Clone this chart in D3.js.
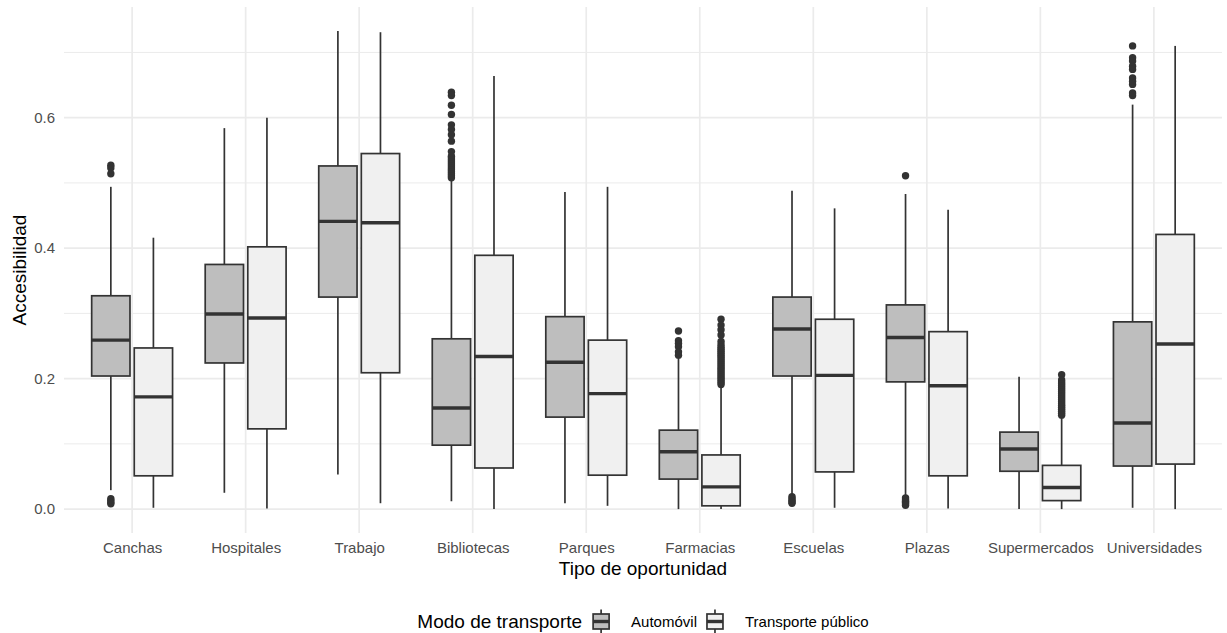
<!DOCTYPE html>
<html>
<head>
<meta charset="utf-8">
<script src="https://cdn.jsdelivr.net/npm/d3@7"></script>
<style>
  body { margin: 0; background: #fff; }
  svg { font-family: "Liberation Sans", Arial, sans-serif; display: block; }
</style>
</head>
<body>
<svg id="chart" width="1227" height="633"></svg>
<script>
// Categories and series
const categories = ["Canchas", "Hospitales", "Trabajo", "Bibliotecas", "Parques",
  "Farmacias", "Escuelas", "Plazas", "Supermercados", "Universidades"];
const seriesNames = ["Automóvil", "Transporte público"];
const seriesFill = ["#bebebe", "#f0f0f0"];

// Automóvil box stats
const autoLower  = [0.029, 0.025, 0.053, 0.012, 0.009, 0.000, 0.022, 0.020, 0.000, 0.002];
const autoQ1     = [0.204, 0.224, 0.325, 0.098, 0.141, 0.046, 0.204, 0.195, 0.058, 0.066];
const autoMedian = [0.259, 0.299, 0.441, 0.155, 0.225, 0.088, 0.276, 0.263, 0.092, 0.132];
const autoQ3     = [0.327, 0.375, 0.526, 0.261, 0.295, 0.121, 0.325, 0.313, 0.118, 0.287];
const autoUpper  = [0.494, 0.584, 0.733, 0.503, 0.486, 0.232, 0.488, 0.483, 0.203, 0.620];

// Transporte público box stats
const tpLower  = [0.002, 0.001, 0.009, 0.000, 0.005, 0.000, 0.002, 0.001, 0.000, 0.000];
const tpQ1     = [0.051, 0.123, 0.209, 0.063, 0.052, 0.005, 0.057, 0.051, 0.013, 0.069];
const tpMedian = [0.172, 0.293, 0.439, 0.234, 0.177, 0.034, 0.205, 0.189, 0.033, 0.253];
const tpQ3     = [0.247, 0.402, 0.545, 0.389, 0.259, 0.083, 0.291, 0.272, 0.067, 0.421];
const tpUpper  = [0.416, 0.600, 0.731, 0.664, 0.494, 0.189, 0.461, 0.459, 0.140, 0.710];

// Outliers
const autoOutliers = [
  [0.527, 0.523, 0.514, 0.016, 0.013, 0.010, 0.008],
  [],
  [],
  [0.639, 0.634, 0.619, 0.605, 0.589, 0.582, 0.574, 0.564, 0.548,
   0.541, 0.538, 0.535, 0.532, 0.529, 0.526, 0.523, 0.520, 0.517, 0.514, 0.511, 0.508],
  [],
  [0.273, 0.258, 0.254, 0.249, 0.241, 0.236],
  [0.019, 0.016, 0.013, 0.011, 0.009],
  [0.511, 0.017, 0.014, 0.012, 0.010, 0.008, 0.006],
  [],
  [0.710, 0.692, 0.687, 0.679, 0.674, 0.661, 0.656, 0.651, 0.638, 0.634]
];
const tpOutliers = [
  [], [], [], [], [],
  [0.291, 0.282, 0.275, 0.267, 0.257, 0.252, 0.248, 0.245, 0.242, 0.239, 0.236, 0.233,
   0.230, 0.227, 0.224, 0.221, 0.218, 0.215, 0.212, 0.209, 0.206, 0.203, 0.200, 0.197, 0.194, 0.191],
  [], [], 
  [0.206, 0.198, 0.195, 0.192, 0.189, 0.186, 0.183, 0.180, 0.177, 0.174, 0.171, 0.168,
   0.165, 0.162, 0.159, 0.156, 0.153, 0.150, 0.147, 0.144],
  []
];

const yMajorTicks = [0, 0.2, 0.4, 0.6];
const yMinorTicks = [0.1, 0.3, 0.5, 0.7];

// build rows for drawing
const series = [
  { name: seriesNames[0], fill: seriesFill[0], lower: autoLower, q1: autoQ1, med: autoMedian, q3: autoQ3, upper: autoUpper, out: autoOutliers },
  { name: seriesNames[1], fill: seriesFill[1], lower: tpLower, q1: tpQ1, med: tpMedian, q3: tpQ3, upper: tpUpper, out: tpOutliers }
];
const boxes = [];
series.forEach((s, si) => {
  categories.forEach((c, i) => {
    boxes.push({ cat: c, si: si, fill: s.fill, lower: s.lower[i], q1: s.q1[i], med: s.med[i], q3: s.q3[i], upper: s.upper[i], out: s.out[i] });
  });
});

const svg = d3.select("#chart");
const panel = { left: 64, right: 1222, top: 7, bottom: 533 };

// y domain with 5% expansion like ggplot
const allVals = boxes.flatMap(b => [b.lower, b.upper, ...b.out]);
const [vMin, vMax] = d3.extent(allVals);
const pad = (vMax - vMin) * 0.05;
const y = d3.scaleLinear()
  .domain([vMin - pad, vMax + pad])
  .range([panel.bottom, panel.top]);

const x = d3.scalePoint()
  .domain(categories)
  .range([panel.left, panel.right])
  .padding(0.6);
const step = x.step();
const dodge = d3.scaleBand().domain([0, 1]).range([-0.375 * step, 0.375 * step]);
const boxW = 0.3375 * step;
const cx = d => x(d.cat) + dodge(d.si) + dodge.bandwidth() / 2;

const ink = "#333333";
const grid = "#ebebeb";

// gridlines
svg.append("g").selectAll("line")
  .data(yMinorTicks).enter().append("line")
  .attr("x1", panel.left).attr("x2", panel.right)
  .attr("y1", d => y(d)).attr("y2", d => y(d))
  .attr("stroke", grid).attr("stroke-width", 1);
svg.append("g").selectAll("line")
  .data(yMajorTicks).enter().append("line")
  .attr("x1", panel.left).attr("x2", panel.right)
  .attr("y1", d => y(d)).attr("y2", d => y(d))
  .attr("stroke", grid).attr("stroke-width", 1.7);
svg.append("g").selectAll("line")
  .data(categories).enter().append("line")
  .attr("x1", d => x(d)).attr("x2", d => x(d))
  .attr("y1", panel.top).attr("y2", panel.bottom)
  .attr("stroke", grid).attr("stroke-width", 1.7);

// boxes
const g = svg.append("g");
const bx = g.selectAll("g.box").data(boxes).enter().append("g").attr("class", "box");

bx.selectAll("circle")
  .data(d => d.out.map(v => ({ v: v, cx: cx(d) })))
  .enter().append("circle")
  .attr("cx", d => d.cx).attr("cy", d => y(d.v))
  .attr("r", 3.7).attr("fill", ink);

bx.append("line")
  .attr("x1", cx).attr("x2", cx)
  .attr("y1", d => y(d.upper)).attr("y2", d => y(d.q3))
  .attr("stroke", ink).attr("stroke-width", 1.7);
bx.append("line")
  .attr("x1", cx).attr("x2", cx)
  .attr("y1", d => y(d.q1)).attr("y2", d => y(d.lower))
  .attr("stroke", ink).attr("stroke-width", 1.7);
bx.append("rect")
  .attr("x", d => cx(d) - boxW / 2)
  .attr("width", boxW)
  .attr("y", d => y(d.q3))
  .attr("height", d => y(d.q1) - y(d.q3))
  .attr("fill", d => d.fill)
  .attr("stroke", ink).attr("stroke-width", 1.7);
bx.append("line")
  .attr("x1", d => cx(d) - boxW / 2).attr("x2", d => cx(d) + boxW / 2)
  .attr("y1", d => y(d.med)).attr("y2", d => y(d.med))
  .attr("stroke", ink).attr("stroke-width", 3.4);

// axes
const yAxis = svg.append("g")
  .attr("transform", `translate(${panel.left},0)`)
  .call(d3.axisLeft(y).tickValues(yMajorTicks).tickFormat(d3.format(".1f")).tickSize(0).tickPadding(9));
yAxis.select(".domain").remove();
yAxis.selectAll("text").attr("font-size", 15).attr("fill", "#4d4d4d").attr("font-family", "Liberation Sans, Arial, sans-serif");

const xAxis = svg.append("g")
  .attr("transform", `translate(0,${panel.bottom})`)
  .call(d3.axisBottom(x).tickSize(0).tickPadding(9));
xAxis.select(".domain").remove();
xAxis.selectAll("text").attr("font-size", 15).attr("fill", "#4d4d4d").attr("font-family", "Liberation Sans, Arial, sans-serif");

// axis titles
svg.append("text")
  .attr("x", (panel.left + panel.right) / 2).attr("y", 574.5)
  .attr("text-anchor", "middle").attr("font-size", 19).attr("fill", "#000")
  .text("Tipo de oportunidad");
svg.append("text")
  .attr("transform", `translate(26,${(panel.top + panel.bottom) / 2}) rotate(-90)`)
  .attr("text-anchor", "middle").attr("font-size", 19).attr("fill", "#000")
  .text("Accesibilidad");

// legend
const legend = svg.append("g");
const ly = 621.5;
const title = legend.append("text")
  .attr("x", 0).attr("y", ly + 6.5).attr("font-size", 19).attr("fill", "#000")
  .text("Modo de transporte");
let lx = title.node().getComputedTextLength() + 11;
series.forEach((s, i) => {
  const k = legend.append("g").attr("transform", `translate(${lx},0)`);
  k.append("line").attr("x1", 8).attr("x2", 8).attr("y1", ly - 12).attr("y2", ly + 12)
    .attr("stroke", ink).attr("stroke-width", 1.7);
  k.append("rect").attr("x", 0).attr("y", ly - 7.5).attr("width", 16).attr("height", 15)
    .attr("fill", s.fill).attr("stroke", ink).attr("stroke-width", 1.7);
  k.append("line").attr("x1", 0).attr("x2", 16).attr("y1", ly).attr("y2", ly)
    .attr("stroke", ink).attr("stroke-width", 3.4);
  const t = legend.append("text")
    .attr("x", lx + 16 + 22).attr("y", ly + 5).attr("font-size", 15).attr("fill", "#000")
    .text(s.name);
  lx += 16 + 22 + t.node().getComputedTextLength() + 10;
});
const lw = lx - 10;
legend.attr("transform", `translate(${(panel.left + panel.right) / 2 - lw / 2},0)`);
</script>
</body>
</html>
